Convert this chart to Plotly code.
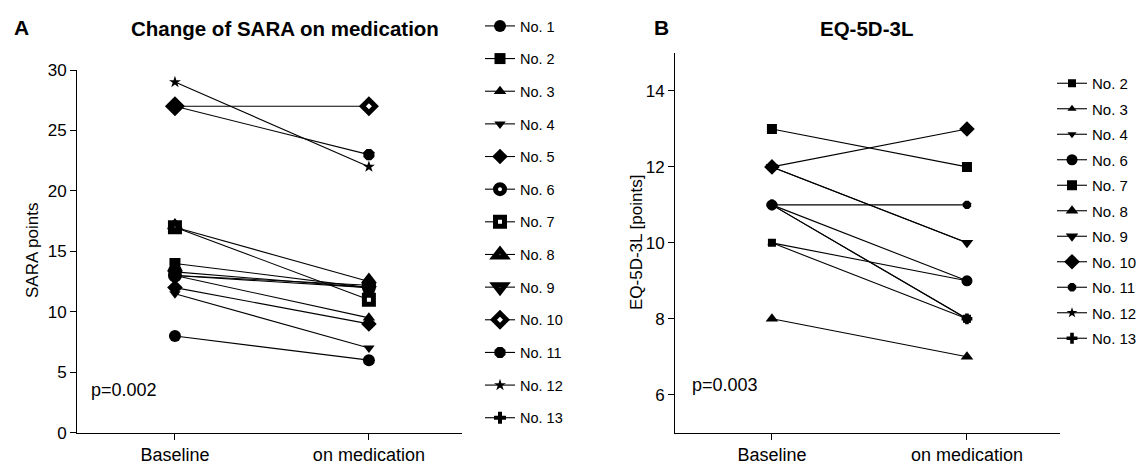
import plotly.graph_objects as go

categories = ["Baseline", "on medication"]

# Panel A: SARA points (baseline, on medication)
sara_patients = ["No. 1", "No. 2", "No. 3", "No. 4", "No. 5", "No. 6", "No. 7",
                 "No. 8", "No. 9", "No. 10", "No. 11", "No. 12", "No. 13"]
sara_baseline = [8, 14, 13, 11.5, 12, 13, 17, 17, 13.3, 27, 27, 29, 13]
sara_medication = [6, 12, 9.5, 7, 9, 12, 11, 12.5, 12, 27, 23, 22, 12.2]

# Panel B: EQ-5D-3L points
eq_patients = ["No. 2", "No. 3", "No. 4", "No. 6", "No. 7", "No. 8", "No. 9",
               "No. 10", "No. 11", "No. 12", "No. 13"]
eq_baseline = [10, 10, 12, 11, 13, 8, 12, 12, 11, 11, 11]
eq_medication = [8, 9, 10, 9, 12, 7, 10, 13, 11, 8, 8]

FONT = "Liberation Sans, Arial, sans-serif"

# marker styles: (symbol, size, open)
styleA = {
    "No. 1": ("circle", 12, False), "No. 2": ("square", 11, False),
    "No. 3": ("triangle-up", 11, False), "No. 4": ("triangle-down", 10, False),
    "No. 5": ("diamond", 12, False), "No. 6": ("circle", 9, True),
    "No. 7": ("square", 9, True), "No. 8": ("triangle-up", 10, True),
    "No. 9": ("triangle-down", 10, True), "No. 10": ("diamond", 10, True),
    "No. 11": ("octagon", 12, False), "No. 12": ("star", 9, False),
    "No. 13": ("cross", 10, False),
}
styleB = {
    "No. 2": ("square", 8, False), "No. 3": ("triangle-up", 8, False),
    "No. 4": ("triangle-down", 8, False), "No. 6": ("circle", 11, False),
    "No. 7": ("square", 10, False), "No. 8": ("triangle-up", 11, False),
    "No. 9": ("triangle-down", 11, False), "No. 10": ("diamond", 12, False),
    "No. 11": ("octagon", 9, False), "No. 12": ("star", 8, False),
    "No. 13": ("cross", 9, False),
}

fig = go.Figure()


def marker_of(sym, size, is_open):
    if is_open:
        return dict(symbol=sym, size=size, color="white",
                    line=dict(color="black", width=5))
    return dict(symbol=sym, size=size, color="black",
                line=dict(color="black", width=0))


for i, name in enumerate(sara_patients):
    sym, size, op = styleA[name]
    fig.add_trace(go.Scatter(
        x=[0, 1], y=[sara_baseline[i], sara_medication[i]], name=name,
        mode="lines+markers", line=dict(color="black", width=1.1),
        marker=marker_of(sym, size, op), legend="legend",
        legendgroup="A" + name, xaxis="x", yaxis="y"))

for i, name in enumerate(eq_patients):
    sym, size, op = styleB[name]
    fig.add_trace(go.Scatter(
        x=[0, 1], y=[eq_baseline[i], eq_medication[i]], name=name,
        mode="lines+markers", line=dict(color="black", width=1.1),
        marker=marker_of(sym, size, op), legend="legend2",
        legendgroup="B" + name, xaxis="x2", yaxis="y2"))

# The page body has an 8px margin: the figure is sized to fill the rest of
# the window and positions below are given in window pixels.
OFF = 8
W, H = 1145 - OFF, 465 - OFF


def px(xs):
    return (xs - OFF) / W


def py(ys):
    return 1 - (ys - OFF) / H


axis_common = dict(showline=True, linecolor="black", linewidth=1,
                   ticks="outside", ticklen=6, tickcolor="black",
                   showgrid=False, zeroline=False, automargin=False)

fig.update_layout(
    width=W, height=H, margin=dict(l=0, r=0, t=0, b=0, autoexpand=False),
    paper_bgcolor="white", plot_bgcolor="white",
    font=dict(family=FONT, color="black"),
    xaxis=dict(domain=[px(77), px(462)], range=[-0.505, 1.48],
               tickvals=[0, 1], ticktext=categories, anchor="y",
               tickfont=dict(family=FONT, size=18, color="black"), **axis_common),
    yaxis=dict(domain=[py(432.7), py(70)], range=[0, 30],
               tickvals=[0, 5, 10, 15, 20, 25, 30], anchor="x",
               tickfont=dict(family=FONT, size=17, color="black"), **axis_common),
    xaxis2=dict(domain=[px(675), px(1060)], range=[-0.497, 1.477],
                tickvals=[0, 1], ticktext=categories, anchor="y2",
                tickfont=dict(family=FONT, size=18, color="black"), **axis_common),
    yaxis2=dict(domain=[py(432.7), py(53)], range=[5, 15],
                tickvals=[6, 8, 10, 12, 14], anchor="x2",
                tickfont=dict(family=FONT, size=17, color="black"), **axis_common),
    legend=dict(x=px(480), y=py(10), xanchor="left", yanchor="top",
                traceorder="grouped", tracegroupgap=10.8, maxheight=470,
                font=dict(size=14.5, family=FONT), bgcolor="rgba(0,0,0,0)"),
    legend2=dict(x=px(1052), y=py(67), xanchor="left", yanchor="top",
                 traceorder="grouped", tracegroupgap=3.0, maxheight=470,
                 font=dict(size=15, family=FONT), bgcolor="rgba(0,0,0,0)"),
    showlegend=True,
    annotations=[
        dict(text="<b>A</b>", x=px(12), y=py(27), xref="paper", yref="paper",
             xanchor="left", yanchor="middle", showarrow=False,
             font=dict(size=21)),
        dict(text="<b>Change of SARA on medication</b>", x=px(285), y=py(28),
             xref="paper", yref="paper", xanchor="center", yanchor="middle",
             showarrow=False, font=dict(size=20.5)),
        dict(text="<b>B</b>", x=px(652), y=py(27), xref="paper", yref="paper",
             xanchor="left", yanchor="middle", showarrow=False,
             font=dict(size=21)),
        dict(text="<b>EQ-5D-3L</b>", x=px(866), y=py(28),
             xref="paper", yref="paper", xanchor="center", yanchor="middle",
             showarrow=False, font=dict(size=20.5)),
        dict(text="SARA points", x=px(33), y=py(251), xref="paper", yref="paper",
             xanchor="center", yanchor="middle", textangle=-90,
             showarrow=False, font=dict(size=17)),
        dict(text="EQ-5D-3L [points]", x=px(636), y=py(243), xref="paper",
             yref="paper", xanchor="center", yanchor="middle", textangle=-90,
             showarrow=False, font=dict(size=17)),
        dict(text="p=0.002", x=-0.445, y=3.5, xref="x", yref="y",
             xanchor="left", yanchor="middle", showarrow=False,
             font=dict(size=18)),
        dict(text="p=0.003", x=-0.42, y=6.25, xref="x2", yref="y2",
             xanchor="left", yanchor="middle", showarrow=False,
             font=dict(size=18)),
    ],
)

fig.write_html("out.html")
